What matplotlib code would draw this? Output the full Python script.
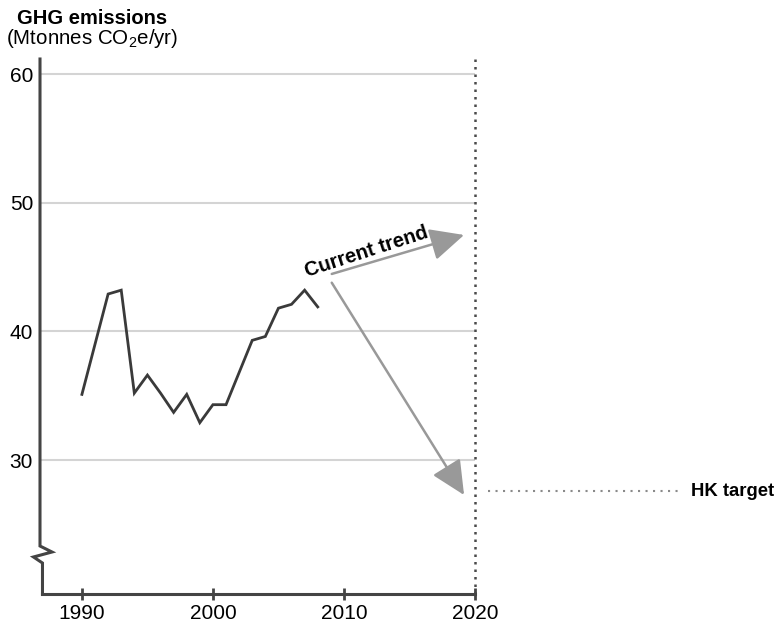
import matplotlib
matplotlib.use("Agg")
import matplotlib.pyplot as plt
from matplotlib.patches import FancyArrowPatch

plt.rcParams['font.family'] = ['Liberation Sans', 'DejaVu Sans']
plt.rcParams['mathtext.fontset'] = 'custom'
plt.rcParams['mathtext.rm'] = 'Liberation Sans'
plt.rcParams['mathtext.it'] = 'Liberation Sans'

# GHG emissions Hong Kong, Mtonnes CO2e/yr
years = [1990, 1991, 1992, 1993, 1994, 1995, 1996, 1997, 1998, 1999,
         2000, 2001, 2002, 2003, 2004, 2005, 2006, 2007, 2008]
emissions = [35.1, 39.0, 42.9, 43.2, 35.2, 36.6, 35.2, 33.7, 35.1, 32.9,
             34.3, 34.3, 36.8, 39.3, 39.6, 41.8, 42.1, 43.2, 41.9]

xticks = [1990, 2000, 2010, 2020]
yticks = [30, 40, 50, 60]

# pijlen: huidige trend en richting doel
trend_start = (2009.07, 44.46)
trend_end = (2019.17, 47.49)
target_start = (2009.07, 43.78)
target_end = (2019.17, 27.28)
hk_target = 27.59

x_min, x_max = 1986.8, 2020.6
y_min, y_max = 19.586, 61.166

fig = plt.figure(figsize=(7.76, 6.25), dpi=100)
ax = fig.add_axes([40 / 776, 31 / 625, 442.8 / 776, 535 / 625])
ax.set_xlim(x_min, x_max)
ax.set_ylim(y_min, y_max)

axis_col = '#444444'
for s in ['top', 'right', 'left']:
    ax.spines[s].set_visible(False)
ax.spines['bottom'].set_bounds(1986.99, 2020)
ax.spines['bottom'].set_linewidth(2.2)
ax.spines['bottom'].set_color(axis_col)

# gridlijnen
ax.hlines(yticks, x_min, 2020, color='#d4d4d4', lw=1.5, zorder=1)

# verticale stippellijn bij 2020
ax.plot([2020, 2020], [y_min, y_max], color='#4a4a4a', lw=1.8,
        linestyle=(0, (1, 2.0)), clip_on=False, zorder=2)

# y-as met onderbreking (axes coordinaten)
brk_x = [0, 0, 0.0271, -0.0147, 0.0056, 0.0056]
brk_y = [1, 0.0897, 0.0785, 0.0692, 0.0579, 0]
ax.plot(brk_x, brk_y, color=axis_col, lw=2.2, transform=ax.transAxes,
        clip_on=False, solid_joinstyle='miter', zorder=3)

# emissies
ax.plot(years, emissions, color='#3a3a3a', lw=2.0, zorder=4,
        solid_joinstyle='miter')

# pijlen
for a, b in [(trend_start, trend_end), (target_start, target_end)]:
    arr = FancyArrowPatch(a, b, arrowstyle='-|>,head_length=21,head_width=10',
                          mutation_scale=1, color='#999999', lw=1.8,
                          shrinkA=0, shrinkB=0, zorder=5)
    ax.add_patch(arr)

ax.text(2011.75, 46.2, 'Current trend', rotation=18, rotation_mode='anchor',
        ha='center', va='center', fontsize=14.5, fontweight='bold', zorder=6)

# HK doel
ax.plot([2021.0, 2035.9], [hk_target, hk_target], color='#8a8a8a', lw=1.5,
        linestyle=(0, (1, 2.6)), clip_on=False)
ax.text(2036.5, hk_target, 'HK target', ha='left', va='center',
        fontsize=13.3, fontweight='bold')

ax.set_xticks(xticks)
ax.set_yticks(yticks)
ax.tick_params(axis='x', direction='inout', length=8.5, width=2,
               color=axis_col, labelsize=15, pad=3)
ax.tick_params(axis='y', length=0, labelsize=15, pad=5)

fig.text(17 / 776, 1 - 24 / 625, 'GHG emissions', fontsize=14.5,
         fontweight='bold', va='baseline', ha='left')
fig.text(6 / 776, 1 - 44 / 625, r'(Mtonnes CO$_2$e/yr)', fontsize=14.8,
         va='baseline', ha='left')

fig.savefig('out.png', dpi=100)
